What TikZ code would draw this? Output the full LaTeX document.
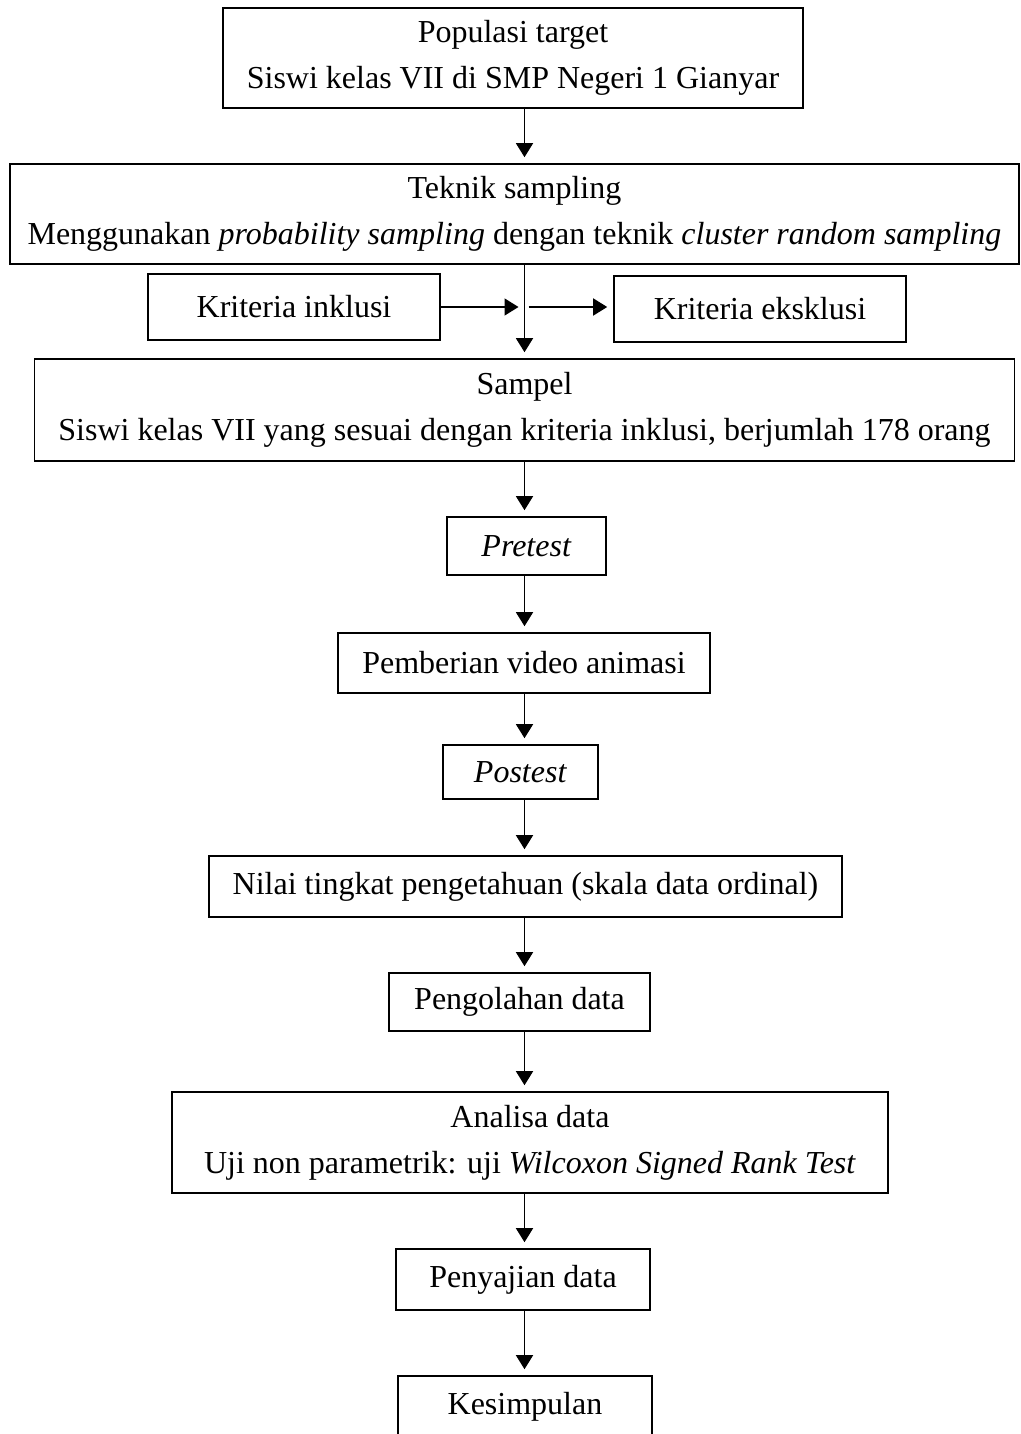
\documentclass[tikz,border=0pt]{standalone}
\usepackage{fontspec}
\setmainfont{Liberation Serif}
\usetikzlibrary{arrows.meta, positioning}

\begin{document}
\begin{tikzpicture}[
		x=0.5pt, y=-0.5pt,
		font=\fontsize{16}{23}\selectfont,
		% --- GAYA KOTAK ---
		box/.style = {draw, rectangle, line width=0.8pt, align=center, inner xsep=12pt, inner ysep=0pt, minimum height=30pt},
		tallbox/.style = {box, minimum height=50pt},
		% --- GAYA PANAH ---
		arr/.style = {-{Triangle[length=7pt, width=8.5pt]}, line width=0.75pt, shorten >=3pt}
		]
		
		\useasboundingbox (0,0) rectangle (1021,1434);
		
		% =========================================================================
		% 1. KOTAK-KOTAK ALUR PENELITIAN
		% =========================================================================
		\node [tallbox, minimum width=287pt] (populasi) at (513,58) {Populasi target\\Siswi kelas VII di SMP Negeri 1 Gianyar};
		
		\node [tallbox, minimum width=504.5pt, inner xsep=8pt] (teknik) at (514.5,214) {Teknik sampling\\Menggunakan \textit{probability sampling} dengan teknik \textit{cluster random sampling}};
		
		% Kriteria di kiri dan kanan jalur utama
		\node [box, minimum width=146pt, minimum height=33pt] (inklusi) at (294,307) {Kriteria inklusi};
		\node [box, minimum width=146pt, minimum height=33pt] (eksklusi) at (760,309) {Kriteria eksklusi};
		
		\node [tallbox, minimum width=488.5pt, minimum height=51pt] (sampel) at (524.5,410) {Sampel\\Siswi kelas VII yang sesuai dengan kriteria inklusi, berjumlah 178 orang};
		
		\node [box, minimum width=79.5pt, minimum height=29pt] (pretest) at (526.5,546) {\textit{Pretest}};
		\node [box, minimum width=184pt] (pemberian) at (524,663) {Pemberian video animasi};
		\node [box, minimum width=77.5pt, minimum height=27pt] (postest) at (520.5,772) {\textit{Postest}};
		\node [box, minimum width=315.5pt, minimum height=30.5pt] (nilai) at (525.5,886.5) {Nilai tingkat pengetahuan (skala data ordinal)};
		\node [box, minimum width=130.5pt, minimum height=29pt] (olah) at (519.5,1002) {Pengolahan data};
		
		\node [tallbox, minimum width=358pt, minimum height=50.5pt] (analisa) at (530,1142.5) {Analisa data\\Uji non parametrik: uji \textit{Wilcoxon Signed Rank Test}};
		
		\node [box, minimum width=127pt, minimum height=30.5pt] (sajian) at (523,1279.5) {Penyajian data};
		\node [box, minimum width=127pt, minimum height=30.5pt] (simpulan) at (525,1406.5) {Kesimpulan};
		
		% =========================================================================
		% 2. PANAH
		% =========================================================================
		% Jalur utama pada sumbu x kotak sampel
		\draw [arr] (populasi.south -| sampel.north) -- (teknik.north -| sampel.north);
		\draw [arr] (teknik.south -| sampel.north) -- (sampel.north);
		
		% Panah kriteria
		\draw [arr] (inklusi.east) -- (inklusi.east -| sampel.north);
		\draw [arr] ([xshift=2pt]inklusi.east -| sampel.north) -- (inklusi.east -| eksklusi.west);
		
		\draw [arr] (sampel.south) -- (pretest.north -| sampel.south);
		\draw [arr] (pretest.south -| sampel.south) -- (pemberian.north -| sampel.south);
		\draw [arr] (pemberian.south -| sampel.south) -- (postest.north -| sampel.south);
		\draw [arr] (postest.south -| sampel.south) -- (nilai.north -| sampel.south);
		\draw [arr] (nilai.south -| sampel.south) -- (olah.north -| sampel.south);
		\draw [arr] (olah.south -| sampel.south) -- (analisa.north -| sampel.south);
		\draw [arr] (analisa.south -| sampel.south) -- (sajian.north -| sampel.south);
		\draw [arr] (sajian.south -| sampel.south) -- (simpulan.north -| sampel.south);
		
	\end{tikzpicture}
\end{document}
